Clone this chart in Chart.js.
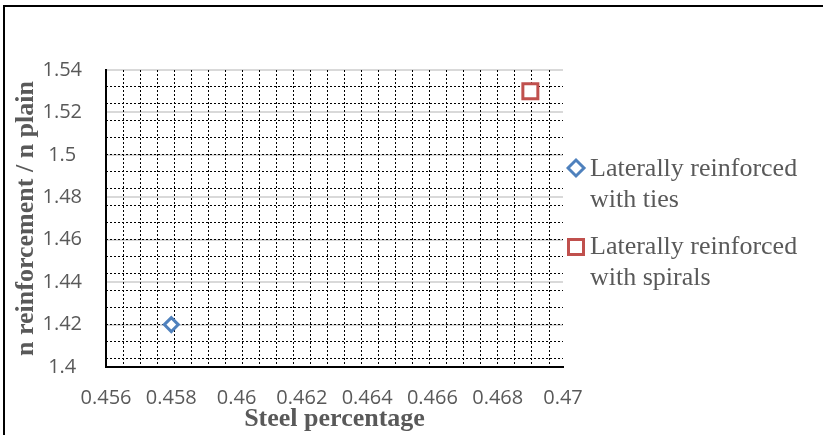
<!DOCTYPE html>
<html>
<head>
<meta charset="utf-8">
<script src="https://cdn.jsdelivr.net/npm/chart.js@4.4.1/dist/chart.umd.min.js"></script>
<style>
  html, body { margin: 0; padding: 0; background: #fff; overflow: hidden; }
  #wrap { position: relative; width: 823px; height: 435px; }
  #frame {
    position: absolute; left: 3px; top: 5px; width: 900px; height: 500px;
    border-left: 2px solid #000; border-top: 2px solid #000; pointer-events: none;
  }
  .legend-item {
    position: absolute; left: 566px;
    font-family: "Liberation Serif", "Times New Roman", serif;
    font-size: 26px; line-height: 31px; color: #595959;
  }
  .legend-item svg { position: absolute; left: 0; top: 0; }
  .legend-item .txt { position: absolute; left: 24px; top: 1px; white-space: nowrap; }
</style>
</head>
<body>
<div id="wrap">
  <canvas id="chart"></canvas>
  <div id="frame"></div>
  <div class="legend-item" style="top:151px">
    <svg width="22" height="34"><polygon points="2,17 10,9 18,17 10,25" fill="none" stroke="#4f81bd" stroke-width="3"/></svg>
    <div class="txt">Laterally reinforced<br>with ties</div>
  </div>
  <div class="legend-item" style="top:229px">
    <svg width="22" height="34"><rect x="2.5" y="10.5" width="15" height="15" fill="none" stroke="#c0504d" stroke-width="3"/></svg>
    <div class="txt">Laterally reinforced<br>with spirals</div>
  </div>
</div>
<script>
// Dados
const tiesX = [0.458];
const tiesY = [1.42];
const spiralsX = [0.469];
const spiralsY = [1.53];

const xTicks = [0.456, 0.458, 0.46, 0.462, 0.464, 0.466, 0.468, 0.47];
const yTicks = [1.4, 1.42, 1.44, 1.46, 1.48, 1.5, 1.52, 1.54];

const GREY = "#595959";
const tickFont = { family: "'Open Sans', sans-serif", size: 20 };
const titleFont = { family: "'Liberation Serif', 'Times New Roman', serif", size: 26, weight: "bold" };

// grade pontilhada (padrão de fundo do Excel)
function minorX(scale) {
  const ticks = [];
  for (let v = 0.456 + 0.000522; v < 0.47; v += 0.000522) ticks.push({ value: v });
  scale.ticks = ticks;
}
function minorY(scale) {
  const ticks = [];
  for (let v = 1.54 - 0.008; v > 1.4; v -= 0.008) ticks.push({ value: v });
  scale.ticks = ticks;
}

const toPoints = (xs, ys) => xs.map((x, i) => ({ x, y: ys[i] }));

document.addEventListener("DOMContentLoaded", () => {
  const ctx = document.getElementById("chart");

  new Chart(ctx, {
    type: "scatter",
    data: {
      datasets: [
        {
          label: "Laterally reinforced with ties",
          data: toPoints(tiesX, tiesY),
          pointStyle: "rectRot",
          pointRadius: 7,
          pointBorderWidth: 3,
          borderColor: "#4f81bd",
          backgroundColor: "#ffffff"
        },
        {
          label: "Laterally reinforced with spirals",
          data: toPoints(spiralsX, spiralsY),
          pointStyle: "rect",
          pointRadius: 10.6,
          pointBorderWidth: 3,
          borderColor: "#c0504d",
          backgroundColor: "#ffffff"
        }
      ]
    },
    options: {
      responsive: true,
      maintainAspectRatio: false,
      animation: false,
      layout: { padding: { left: 0, right: 260, top: 70, bottom: 0 } },
      plugins: { legend: { display: false }, tooltip: { enabled: false } },
      scales: {
        x: {
          type: "linear",
          position: "bottom",
          min: 0.456,
          max: 0.47,
          afterBuildTicks: s => { s.ticks = xTicks.map(v => ({ value: v })); },
          afterFit: s => { s.height = 68; },
          ticks: { color: GREY, font: tickFont, padding: 19, maxRotation: 0, autoSkip: false, callback: v => String(v) },
          grid: { display: false, drawTicks: false },
          border: { display: true, color: "#000", width: 2 },
          title: { display: true, text: "Steel percentage", color: GREY, font: titleFont, padding: { top: 0, bottom: 0 } }
        },
        y: {
          type: "linear",
          position: "left",
          min: 1.4,
          max: 1.54,
          afterBuildTicks: s => { s.ticks = yTicks.map(v => ({ value: v })); },
          afterFit: s => { s.width = 106; },
          ticks: { color: GREY, font: tickFont, padding: 24, crossAlign: "center", autoSkip: false, callback: v => String(v) },
          grid: { color: "#d9d9d9", lineWidth: 2, drawTicks: false },
          border: { display: true, color: "#000", width: 2 },
          title: { display: true, text: "n reinforcement / n plain", color: GREY, font: titleFont, padding: { top: 11, bottom: 0 } }
        },
        xMinor: {
          type: "linear",
          position: "top",
          min: 0.456,
          max: 0.47,
          afterBuildTicks: minorX,
          afterFit: s => { s.height = 0; },
          ticks: { display: false },
          grid: { color: "#000", lineWidth: 1, drawTicks: false },
          border: { display: false, dash: [2, 2] }
        },
        yMinor: {
          type: "linear",
          position: "right",
          min: 1.4,
          max: 1.54,
          afterBuildTicks: minorY,
          afterFit: s => { s.width = 0; },
          ticks: { display: false },
          grid: { color: "#000", lineWidth: 1, drawTicks: false },
          border: { display: false, dash: [2, 2] }
        }
      }
    }
  });
});
</script>
</body>
</html>
